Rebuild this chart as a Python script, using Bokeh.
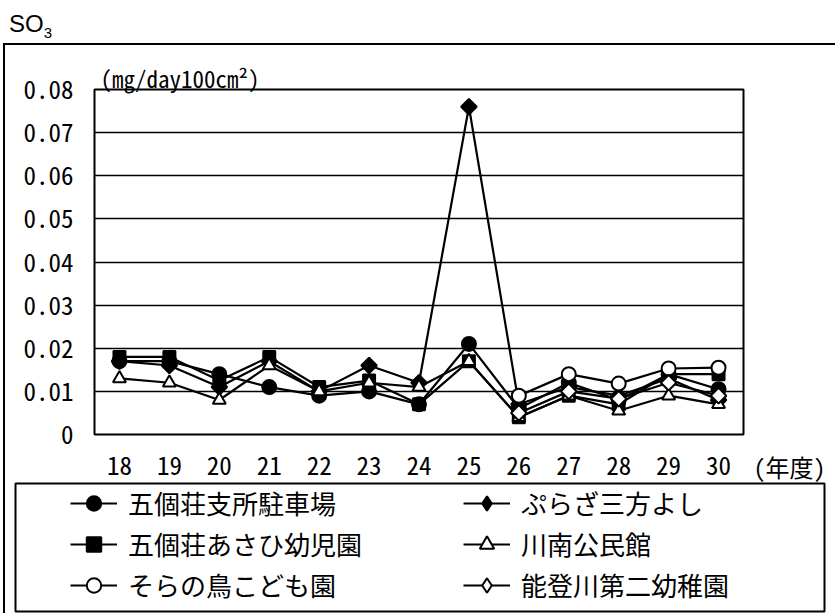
import math
from bokeh.plotting import figure
from bokeh.models import (FactorRange, Range1d, FixedTicker, Label, Legend,
                          LegendItem, Div, Column)
from bokeh.embed import file_html
from bokeh.resources import INLINE

nan = float("nan")

# ---------------- data ----------------
years = ["18", "19", "20", "21", "22", "23", "24", "25", "26", "27", "28", "29", "30"]

names = ["五個荘支所駐車場", "ぷらざ三方よし", "五個荘あさひ幼児園",
         "川南公民館", "そらの鳥こども園", "能登川第二幼稚園"]

gokasho_shisho = [0.017, 0.017, 0.014, 0.011, 0.009, 0.010, 0.007, 0.021, 0.006, 0.012, 0.008, 0.014, 0.0105]
plaza_mikata = [0.017, 0.016, 0.011, 0.017, 0.010, 0.016, 0.012, 0.076, 0.007, 0.011, 0.009, 0.013, 0.008]
asahi_yoji = [0.018, 0.018, 0.0125, 0.018, 0.011, 0.0125, 0.007, 0.017, 0.004, 0.009, 0.007, 0.014, 0.014]
kawaminami = [0.013, 0.012, 0.008, 0.016, 0.010, 0.012, 0.011, 0.017, 0.004, 0.009, 0.0055, 0.009, 0.007]
sora_no_tori = [nan, nan, nan, nan, nan, nan, nan, nan, 0.009, 0.014, 0.0118, 0.0153, 0.0155]
notogawa_2 = [nan, nan, nan, nan, nan, nan, nan, nan, 0.005, 0.010, 0.0083, 0.012, 0.009]

series = [gokasho_shisho, plaza_mikata, asahi_yoji, kawaminami, sora_no_tori, notogawa_2]

y_ticks = [0.0, 0.01, 0.02, 0.03, 0.04, 0.05, 0.06, 0.07, 0.08]
y_tick_labels = ["0", "0.01", "0.02", "0.03", "0.04", "0.05", "0.06", "0.07", "0.08"]

unit_text = "(mg/day100cm²)"
x_unit_text = "(年度)"

# ---------------- styles ----------------
JP = "Noto Sans Mono CJK JP"
marker_styles = [
    dict(marker="circle", size=14, fill_color="black", angle=0.0),
    dict(marker="square", size=11, fill_color="black", angle=math.pi / 4),
    dict(marker="square", size=12, fill_color="black", angle=0.0),
    dict(marker="triangle", size=13, fill_color="white", angle=0.0),
    dict(marker="circle", size=14, fill_color="white", angle=0.0),
    dict(marker="square", size=11, fill_color="white", angle=math.pi / 4),
]
legend_markers = ["circle", "diamond", "square", "triangle", "circle", "diamond"]


def add_series(fig, markers=None):
    rs = []
    for i, (vals, st) in enumerate(zip(series, marker_styles)):
        mk = st["marker"] if markers is None else markers[i]
        ang = st["angle"] if markers is None else 0.0
        lr = fig.line(years, vals, line_color="black", line_width=2.2)
        sr = fig.scatter(years, vals, marker=mk, size=st["size"],
                         angle=ang, fill_color=st["fill_color"],
                         line_color="black", line_width=2)
        rs.append([lr, sr])
    return rs


# ---------------- main chart ----------------
BL, BT, FW, FH = 89, 44, 649, 345
CW = 830
BR = CW - BL - FW

p = figure(frame_width=FW, frame_height=FH, output_backend="svg", toolbar_location=None,
           x_range=FactorRange(*years), y_range=Range1d(0, 0.08),
           min_border_left=BL, min_border_right=BR,
           min_border_top=BT, min_border_bottom=48,
           background_fill_color="white", border_fill_color="white")

p.outline_line_color = "black"
p.outline_line_width = 2

p.xgrid.visible = False
p.ygrid.grid_line_color = "black"
p.ygrid.grid_line_width = 1.5

p.yaxis.ticker = FixedTicker(ticks=y_ticks)
p.yaxis.major_label_overrides = {t: l for t, l in zip(y_ticks, y_tick_labels)}

for ax in (p.xaxis[0], p.yaxis[0]):
    ax.axis_line_color = None
    ax.major_tick_line_color = None
    ax.minor_tick_line_color = None
    ax.major_tick_in = 0
    ax.major_tick_out = 0
    ax.minor_tick_in = 0
    ax.minor_tick_out = 0
    ax.major_label_text_font = JP
    ax.major_label_text_font_size = "25px"
    ax.major_label_text_color = "black"
p.yaxis.major_label_standoff = 21
p.xaxis.major_label_standoff = 21

add_series(p)

p.add_layout(Label(x=6, y=12, x_units="screen", y_units="screen",
                   text=unit_text, text_font=JP, text_font_size="23px",
                   text_color="black",
                   text_baseline="middle", text_align="left"), "above")
p.add_layout(Label(x=10, y=-32, x_units="screen", y_units="screen",
                   text=x_unit_text, text_font=JP, text_font_size="24px",
                   text_color="black",
                   text_baseline="middle", text_align="left"), "right")

# ---------------- legend panel (separate root, own frame = legend box) ----------------
LH = 131
lg = figure(width=CW, height=LH, output_backend="svg", toolbar_location=None,
            x_range=FactorRange(*years), y_range=Range1d(1, 2),
            x_axis_location=None, y_axis_location=None,
            min_border_left=10, min_border_right=11, min_border_top=1, min_border_bottom=2,
            background_fill_color="white", border_fill_color="white",
            styles={"border-left": "2px solid black", "margin-left": "3px"})
lg.grid.visible = False
lg.outline_line_color = "black"
lg.outline_line_width = 2

leg_renderers = add_series(lg, legend_markers)
items = [LegendItem(label=n, renderers=r) for n, r in zip(names, leg_renderers)]
legend = Legend(items=items, orientation="horizontal", ncols=2,
                location=(55, 8),
                border_line_color=None, background_fill_alpha=0,
                label_text_font=JP, label_text_font_size="26px", label_text_color="black",
                glyph_width=47, glyph_height=36, label_height=36,
                label_standoff=11, label_width=331, spacing=4,
                padding=0, margin=0)
lg.add_layout(legend)

# ---------------- page ----------------
header = Div(text='<div style="padding:11px 0 0 9px; font-family:\'Liberation Sans\', Arial, sans-serif; '
                  'font-size:24px; line-height:26px; color:black;">SO<sub style="font-size:15px;">3</sub></div>',
             width=835, height=43, margin=0)

body = Column(p, spacing=0,
              styles={"border-top": "2px solid black", "border-left": "2px solid black",
                      "margin-left": "3px"})

layout = Column(header, body, spacing=0)

open("out.html", "w").write(file_html([layout, lg], INLINE))
